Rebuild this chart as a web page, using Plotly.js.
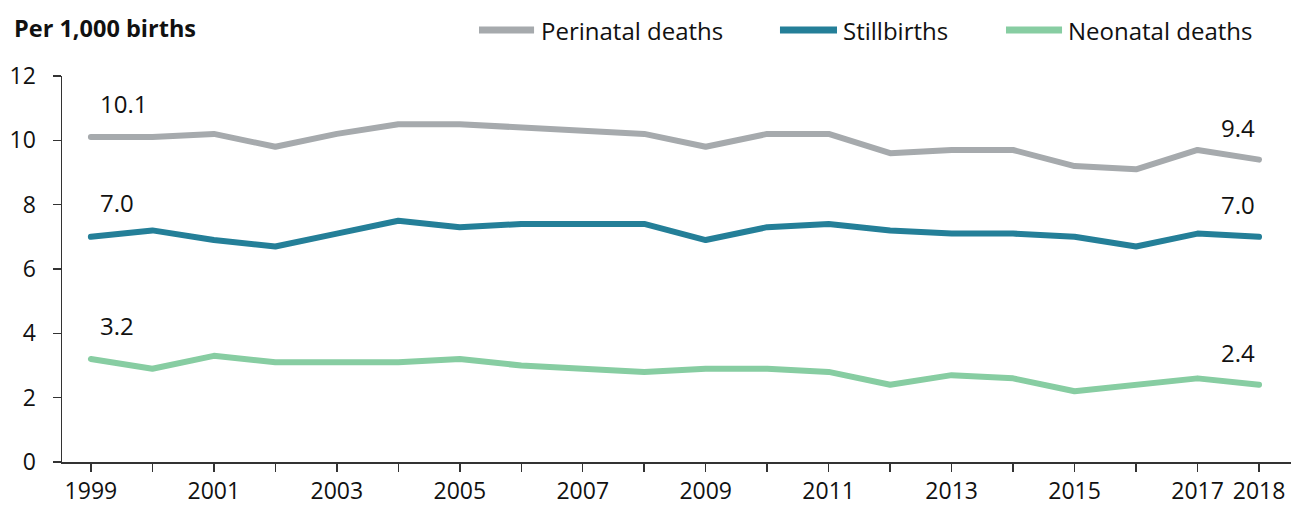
<!DOCTYPE html>
<html>
<head>
<meta charset="utf-8">
<script src="https://cdn.plot.ly/plotly-3.0.1.min.js"></script>
<style>
html,body{margin:0;padding:0;background:#fff;}
#chart{width:1293px;height:506px;}
.scatterlayer path.js-line{stroke-linecap:round;stroke-linejoin:round;}
</style>
</head>
<body>
<div id="chart"></div>
<script>
const years = [1999,2000,2001,2002,2003,2004,2005,2006,2007,2008,2009,2010,2011,2012,2013,2014,2015,2016,2017,2018];
const perinatal = [10.1,10.1,10.2,9.8,10.2,10.5,10.5,10.4,10.3,10.2,9.8,10.2,10.2,9.6,9.7,9.7,9.2,9.1,9.7,9.4];
const stillbirths = [7.0,7.2,6.9,6.7,7.1,7.5,7.3,7.4,7.4,7.4,6.9,7.3,7.4,7.2,7.1,7.1,7.0,6.7,7.1,7.0];
const neonatal = [3.2,2.9,3.3,3.1,3.1,3.1,3.2,3.0,2.9,2.8,2.9,2.9,2.8,2.4,2.7,2.6,2.2,2.4,2.6,2.4];
const seriesNames = ["Perinatal deaths","Stillbirths","Neonatal deaths"];
const xTickLabels = ["1999","","2001","","2003","","2005","","2007","","2009","","2011","","2013","","2015","","2017","2018"];
const yTicks = [0,2,4,6,8,10,12];
const yTitle = "Per 1,000 births";

const colors = ["#A6AAAD","#247F98","#87CDA2"];
const seriesData = [perinatal, stillbirths, neonatal];
const font = "Open Sans, Noto Sans, sans-serif";
const txt = "#111";

const traces = seriesData.map((vals,i)=>({
  x: years, y: vals, type: "scatter", mode: "lines", name: seriesNames[i],
  line: {color: colors[i], width: 6}, hoverinfo: "skip", showlegend: false
}));

const annotations = [];
const shapes = [];
seriesData.forEach((vals,i)=>{
  const first = 0, last = vals.length-1;
  annotations.push({x: years[first], y: vals[first], text: vals[first].toFixed(1), showarrow:false,
    xanchor:"left", yanchor:"middle", xshift: 7, yshift: 34, font:{family:font,size:24,color:txt}});
  annotations.push({x: years[last], y: vals[last], text: vals[last].toFixed(1), showarrow:false,
    xanchor:"right", yanchor:"middle", xshift: -2, yshift: 32, font:{family:font,size:24,color:txt}});
});
annotations.push({xref:"paper", yref:"paper", x:-0.0405, y:1.1244, xanchor:"left", yanchor:"middle",
  text:"<b>"+yTitle+"</b>", showarrow:false, font:{family:font,size:23.5,color:txt}});

// legend drawn in paper coordinates
const legendPos = [[0.3393,0.3841,0.3881],[0.5842,0.6306,0.6339],[0.7681,0.8137,0.8169]];
const legY = 1.119;
seriesNames.forEach((n,i)=>{
  const p = legendPos[i];
  shapes.push({type:"line", xref:"paper", yref:"paper", x0:p[0], x1:p[1], y0:legY, y1:legY,
    line:{color:colors[i], width:7}});
  annotations.push({xref:"paper", yref:"paper", x:p[2], y:legY, xanchor:"left", yanchor:"middle",
    text:n, showarrow:false, font:{family:font,size:24,color:txt}});
});

const layout = {
  width: 1293, height: 506,
  margin: {l: 62, r: 2, t: 76, b: 44},
  paper_bgcolor: "#fff", plot_bgcolor: "#fff",
  showlegend: false,
  xaxis: {range: [1998.53, 2018.52], tickmode: "array", tickvals: years, ticktext: xTickLabels,
    ticks: "outside", ticklen: 8, tickwidth: 1.5, tickcolor: "#333", showline: true, linecolor: "#333", linewidth: 1.5,
    showgrid: false, zeroline: false, tickfont: {family: font, size: 23, color: txt}, automargin: false},
  yaxis: {range: [0, 12], tickmode: "array", tickvals: yTicks, ticks: "outside", ticklen: 8, tickwidth: 1.5,
    tickcolor: "#333", showline: true, linecolor: "#333", linewidth: 1.5, showgrid: false, zeroline: false,
    tickfont: {family: font, size: 23, color: txt}, ticklabelstandoff: 12, automargin: false},
  annotations: annotations,
  shapes: shapes
};
Plotly.newPlot("chart", traces, layout, {displayModeBar: false, staticPlot: true});
</script>
</body>
</html>
